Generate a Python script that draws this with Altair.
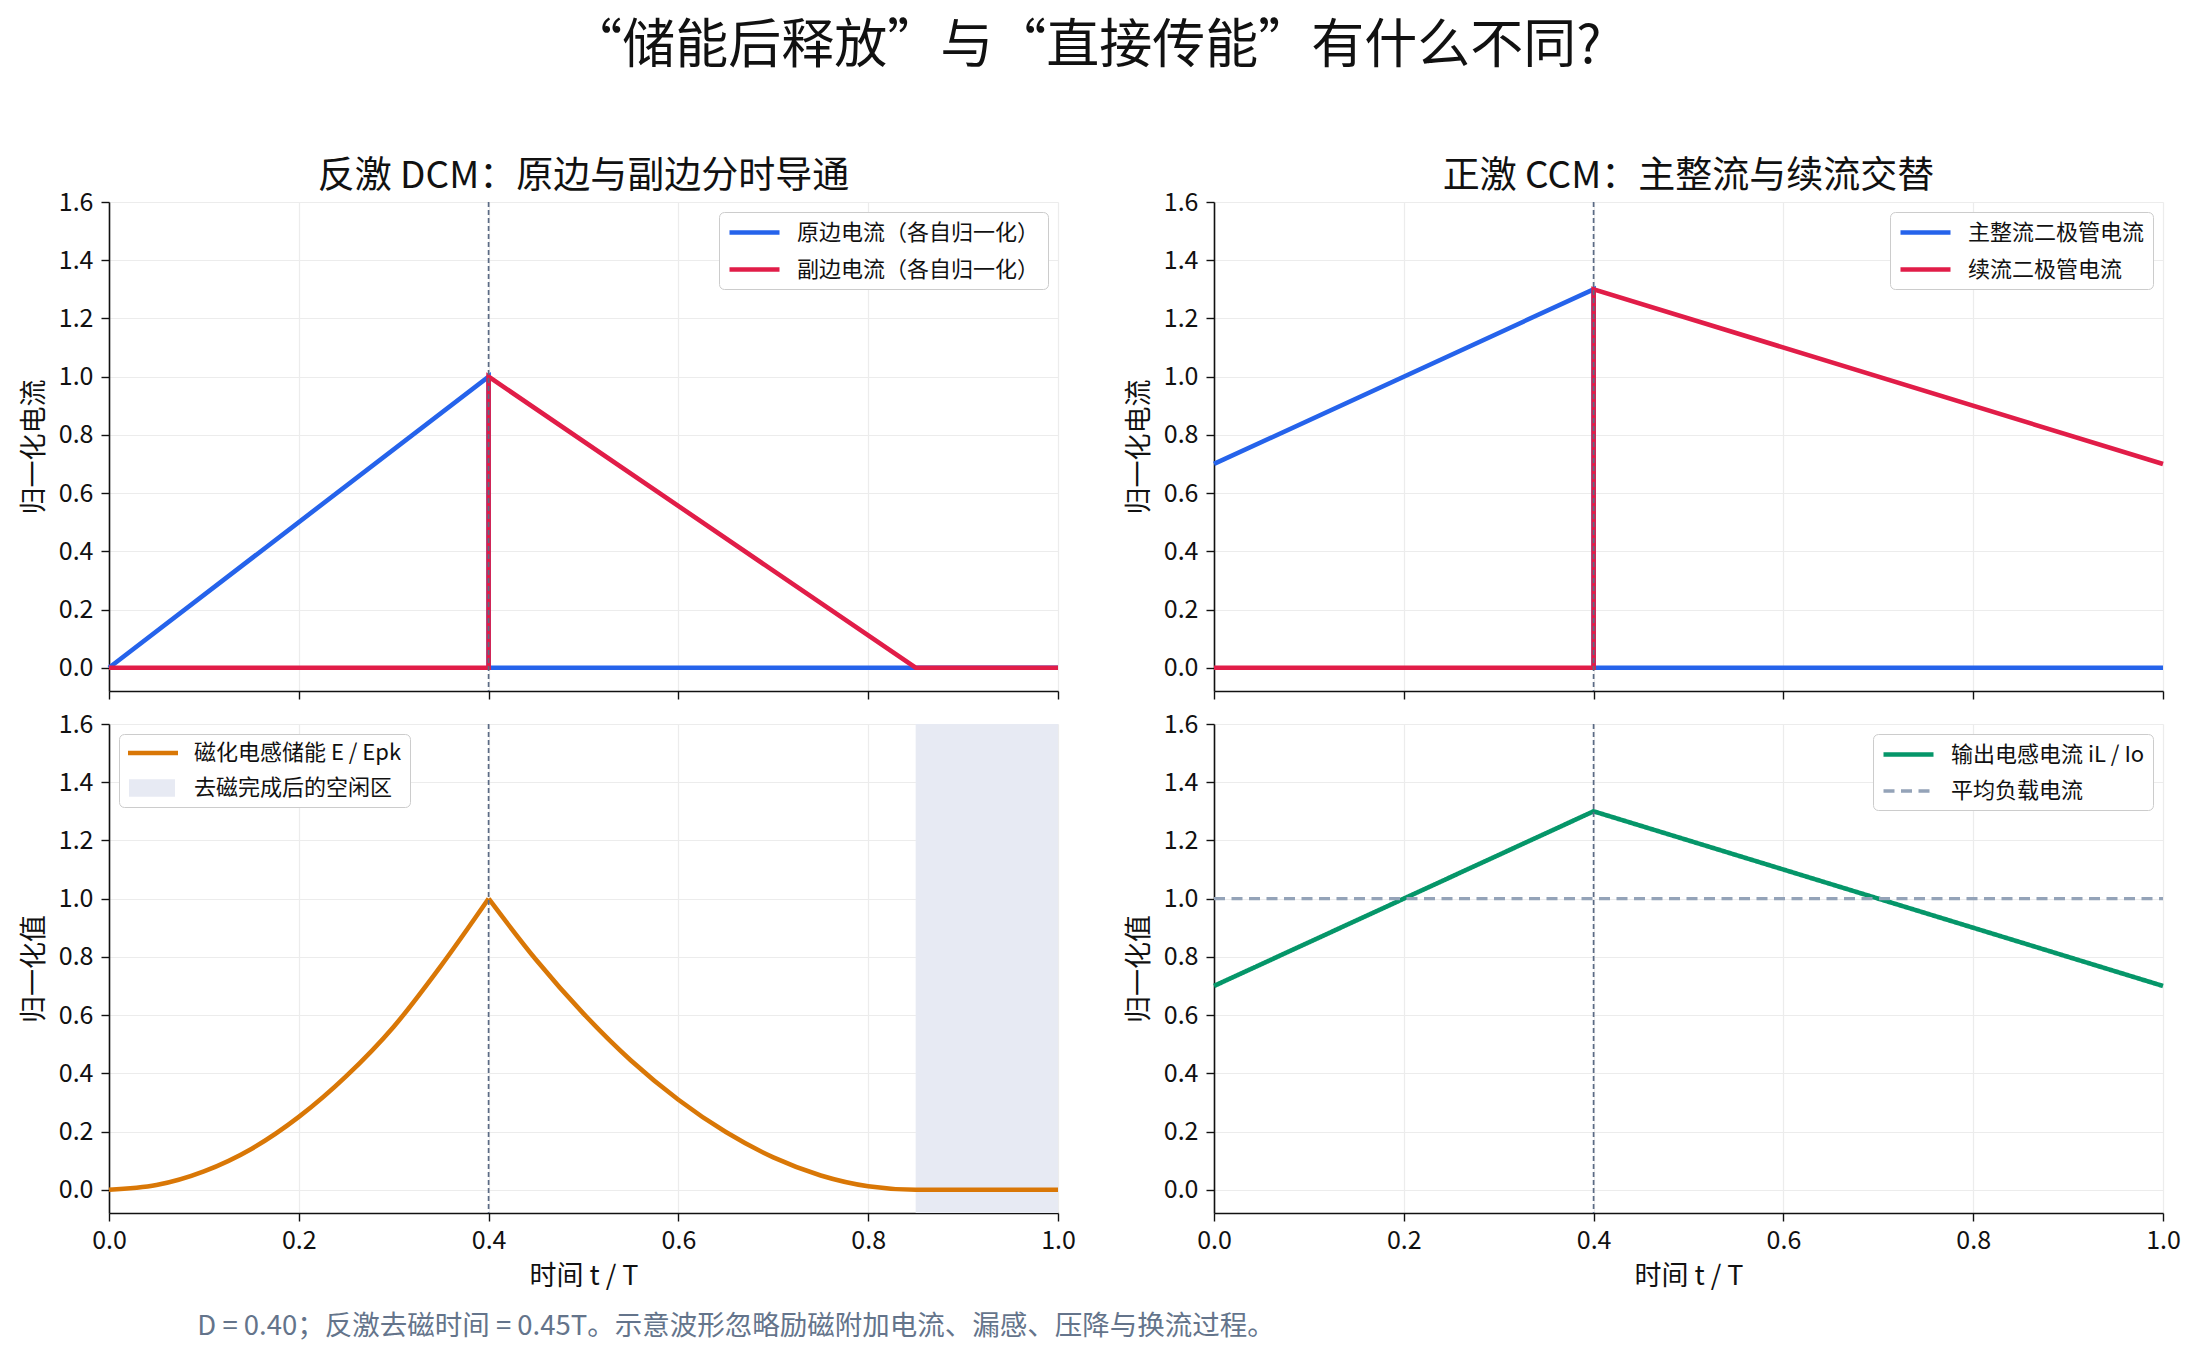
import altair as alt
import pandas as pd

FONT = "Noto Sans CJK SC"

DUTY = 0.40          # D
RESET_END = 0.85     # D + 0.45T, end of flyback demagnetisation

MAIN_TITLE = "“储能后释放”与“直接传能”有什么不同?"
FOOTNOTE = "D = 0.40；反激去磁时间 = 0.45T。示意波形忽略励磁附加电流、漏感、压降与换流过程。"

X_TICKS = [0.0, 0.2, 0.4, 0.6, 0.8, 1.0]
Y_TICKS = [0.0, 0.2, 0.4, 0.6, 0.8, 1.0, 1.2, 1.4, 1.6]

# flyback DCM, primary / secondary current
fly_pri_t = [0.0, 0.4, 0.4, 1.0]
fly_pri_i = [0.0, 1.0, 0.0, 0.0]
fly_sec_t = [0.0, 0.4, 0.4, 0.85, 1.0]
fly_sec_i = [0.0, 0.0, 1.0, 0.0, 0.0]

# flyback magnetising energy E / Epk
energy_rise_t = [0.0, 0.05, 0.10, 0.15, 0.20, 0.25, 0.30, 0.35, 0.40]
energy_rise_e = [0.0, 0.016, 0.063, 0.14, 0.25, 0.39, 0.56, 0.77, 1.0]
energy_fall_t = [0.40, 0.45, 0.50, 0.55, 0.60, 0.65, 0.70, 0.75, 0.80, 0.85, 1.0]
energy_fall_e = [1.0, 0.79, 0.605, 0.444, 0.309, 0.198, 0.111, 0.049, 0.012, 0.0, 0.0]

# forward CCM, rectifier / freewheeling diode current
fwd_main_t = [0.0, 0.4, 0.4, 1.0]
fwd_main_i = [0.7, 1.3, 0.0, 0.0]
fwd_free_t = [0.0, 0.4, 0.4, 1.0]
fwd_free_i = [0.0, 0.0, 1.3, 0.7]

# forward output inductor current and average load current
il_t = [0.0, 0.4, 1.0]
il_v = [0.7, 1.3, 0.7]
avg_t = [0.0, 1.0]
avg_v = [1.0, 1.0]

BLUE = "#2563eb"
RED = "#e11d48"
ORANGE = "#d97706"
GREEN = "#059669"
AVG_GREY = "#94a3b8"
IDLE_FILL = "#e7eaf3"
MARK_LINE = "#5b6b85"

# legend symbols (unit = sqrt(symbolSize) / 2 = 10px)
LINE_PATH = "M-1,0H4"
BAR_PATH = "M-1,-0.23H4V0.23H-1Z"
RECT_PATH = "M-0.9,-0.88H3.7V0.88H-0.9Z"

W, H = 949, 489
LW = 4.6

INDEP = dict(color="independent", shape="independent",
             strokeDash="independent", strokeWidth="independent")


def frame(name, ts, vs, segment="a"):
    return pd.DataFrame({"t": ts, "v": vs, "series": name,
                         "segment": segment, "idx": list(range(len(ts)))})


def x_enc(bottom):
    if bottom:
        axis = alt.Axis(values=X_TICKS, format=".1f", title="时间 t / T",
                        labelPadding=7, titlePadding=10, labelFlush=False)
    else:
        axis = alt.Axis(values=X_TICKS, format=".1f", labels=False, title=None)
    return alt.X("t:Q", scale=alt.Scale(domain=[0, 1], nice=False, zero=False), axis=axis)


def y_enc(title):
    return alt.Y("v:Q", scale=alt.Scale(domain=[-0.08, 1.6], nice=False, zero=False),
                 axis=alt.Axis(values=Y_TICKS, format=".1f", title=title,
                               labelPadding=8, titlePadding=10))


def duty_rule(bottom):
    return alt.Chart(pd.DataFrame({"t": [DUTY]})).mark_rule(
        color=MARK_LINE, strokeWidth=1.7, strokeDash=[5, 3]
    ).encode(x=x_enc(bottom))


def current_panel(df, names, colors, title, ytitle):
    lines = alt.Chart(df).mark_line(strokeWidth=LW, strokeJoin="miter").encode(
        x=x_enc(False),
        y=y_enc(ytitle),
        order="idx:Q",
        color=alt.Color("series:N", scale=alt.Scale(domain=names, range=colors),
                        legend=alt.Legend(title=None, orient="top-right",
                                          symbolType=LINE_PATH, symbolStrokeWidth=LW)),
    )
    return (lines + duty_rule(False)).properties(
        width=W, height=H, title=alt.TitleParams(title, offset=-6)
    )


# 1. flyback currents
flyback_df = pd.concat([frame("原边电流（各自归一化）", fly_pri_t, fly_pri_i),
                        frame("副边电流（各自归一化）", fly_sec_t, fly_sec_i)])
p1 = current_panel(flyback_df, ["原边电流（各自归一化）", "副边电流（各自归一化）"],
                   [BLUE, RED], "反激 DCM：原边与副边分时导通", "归一化电流")

# 2. forward diode currents
forward_df = pd.concat([frame("主整流二极管电流", fwd_main_t, fwd_main_i),
                        frame("续流二极管电流", fwd_free_t, fwd_free_i)])
p2 = current_panel(forward_df, ["主整流二极管电流", "续流二极管电流"],
                   [BLUE, RED], "正激 CCM：主整流与续流交替", "归一化电流")

# 3. magnetising energy with idle band
E_NAME = "磁化电感储能 E / Epk"
IDLE = "去磁完成后的空闲区"
energy_df = pd.concat([frame(E_NAME, energy_rise_t, energy_rise_e, "rise"),
                       frame(E_NAME, energy_fall_t, energy_fall_e, "fall")])
idle_df = pd.DataFrame({"t": [RESET_END], "t2": [1.0]})
legend_df = pd.DataFrame({"t": pd.Series([], dtype=float), "v": pd.Series([], dtype=float),
                          "series": pd.Series([], dtype=str)})

idle_band = alt.Chart(idle_df).mark_rect(color=IDLE_FILL).encode(x=x_enc(True), x2="t2:Q")
energy_line = alt.Chart(energy_df).mark_line(
    strokeWidth=LW, interpolate="monotone", color=ORANGE
).encode(x=x_enc(True), y=y_enc("归一化值"), order="idx:Q", detail="segment:N")
key_legend = alt.Legend(title=None, orient="top-left", symbolStrokeWidth=0)
energy_key = alt.Chart(legend_df).mark_point(filled=True, size=400, opacity=1).encode(
    x=x_enc(True), y=y_enc("归一化值"),
    color=alt.Color("series:N", scale=alt.Scale(domain=[E_NAME, IDLE], range=[ORANGE, IDLE_FILL]),
                    legend=key_legend),
    shape=alt.Shape("series:N", scale=alt.Scale(domain=[E_NAME, IDLE], range=[BAR_PATH, RECT_PATH]),
                    legend=key_legend),
)
p3 = (idle_band + energy_line + duty_rule(True) + energy_key).properties(width=W, height=H)

# 4. output inductor current
IL_NAME = "输出电感电流 iL / Io"
AVG_NAME = "平均负载电流"
il_df = pd.concat([frame(IL_NAME, il_t, il_v), frame(AVG_NAME, avg_t, avg_v, "b")])
il_legend = alt.Legend(title=None, orient="top-right", symbolType=LINE_PATH)
il_lines = alt.Chart(il_df).mark_line().encode(
    x=x_enc(True), y=y_enc("归一化值"), order="idx:Q",
    color=alt.Color("series:N", scale=alt.Scale(domain=[IL_NAME, AVG_NAME], range=[GREEN, AVG_GREY]),
                    legend=il_legend),
    strokeDash=alt.StrokeDash("series:N", scale=alt.Scale(domain=[IL_NAME, AVG_NAME],
                                                          range=[[1, 0], [11, 6.5]]),
                              legend=il_legend),
    strokeWidth=alt.StrokeWidth("series:N", scale=alt.Scale(domain=[IL_NAME, AVG_NAME],
                                                            range=[LW, 3.3]),
                                legend=il_legend),
)
p4 = (il_lines + duty_rule(True)).properties(width=W, height=H)

grid = alt.ConcatChart(
    concat=[p1, p2, p3, p4], columns=2, bounds="flush",
    spacing={"row": 33, "column": 156},
).resolve_scale(**INDEP).properties(
    title=alt.TitleParams(FOOTNOTE, orient="bottom", anchor="start", fontSize=27.5,
                          color="#64748b", dx=177, offset=24)
)

chart = alt.vconcat(grid).resolve_scale(**INDEP).properties(
    title=alt.TitleParams(MAIN_TITLE, fontSize=53, anchor="middle", color="#111111",
                          offset=84, dx=-15),
    padding={"left": 12, "top": 13, "right": 10, "bottom": 4},
).configure(
    font=FONT, background="white"
).configure_view(
    strokeWidth=0
).configure_axis(
    labelFont=FONT, titleFont=FONT, labelFontSize=25, titleFontSize=27,
    titleFontWeight="normal", labelColor="#111111", titleColor="#111111",
    domainColor="#111111", domainWidth=1.6, tickColor="#111111", tickWidth=1.4,
    tickSize=8, gridColor="#ececec", gridWidth=1.2,
).configure_legend(
    labelFont=FONT, labelFontSize=22, labelColor="#111111", fillColor="white",
    strokeColor="#cccccc", cornerRadius=5, padding=8, rowPadding=13, labelLimit=600,
    symbolSize=400, labelOffset=45, offset=10,
).configure_title(
    font=FONT, fontSize=37, fontWeight="normal", color="#111111"
)

chart.save("out.html", embed_options={"renderer": "svg", "actions": False})
